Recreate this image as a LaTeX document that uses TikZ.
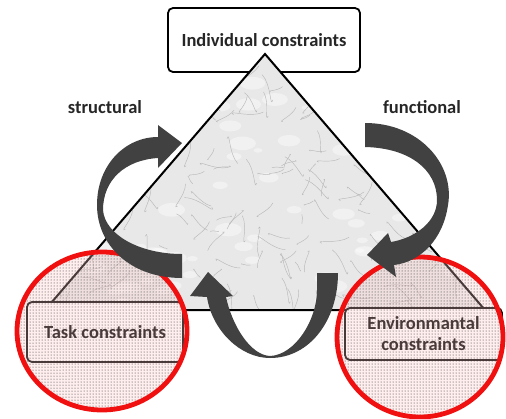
\documentclass[tikz,border=0pt]{standalone}
\usepackage{fontspec}
\setmainfont{Carlito}
\usetikzlibrary{patterns}
\definecolor{arrgray}{HTML}{414141}
\definecolor{ringred}{HTML}{F01010}
\begin{document}
\begin{tikzpicture}[x=1pt,y=-1pt]
\tikzset{
  cbox/.style={draw=black, line width=1.8pt, rounded corners=5pt, fill=white, inner sep=2pt},
  txt/.style={font=\fontsize{18.5}{21}\selectfont\bfseries, text=black!85},
  arrfill/.style={fill=arrgray},
  ringline/.style={draw=ringred, line width=4.8pt},
  pinkfill/.style={fill=red!22, fill opacity=0.3},
  dotfill/.style={pattern=dots, pattern color=black!85},
}
\useasboundingbox (0,0) rectangle (506,418);

% top box (below triangle)
\node[cbox, txt, minimum width=192pt, minimum height=64pt] (ind) at (264,40) {Individual constraints};

% triangle
\coordinate (ta) at (265,54);
\coordinate (tl) at (45,310);
\coordinate (tr) at (485,310);
\fill[gray!18] (ta) -- (tl) -- (tr) -- cycle;
\begin{scope}
  \clip (ta) -- (tl) -- (tr) -- cycle;
  \pgfmathsetseed{7}
  \foreach \i in {1,...,110} {
    \pgfmathsetmacro{\px}{45+440*rnd}
    \pgfmathsetmacro{\py}{54+256*rnd}
    \pgfmathsetmacro{\rr}{4+10*rnd}
    \fill[white, opacity=0.4] (\px,\py) ellipse ({\rr} and {\rr/2});
  }
  \foreach \i in {1,...,220} {
    \pgfmathsetmacro{\px}{45+440*rnd}
    \pgfmathsetmacro{\py}{54+256*rnd}
    \pgfmathsetmacro{\ang}{360*rnd}
    \pgfmathsetmacro{\len}{8+22*rnd}
    \draw[gray!55, line width=0.45pt] (\px,\py) .. controls +(\ang:\len/2) and +(\ang+60:\len/3) .. +(\ang+20:\len);
  }
\end{scope}
\draw[black, line width=2pt, line join=miter] (ta) -- (tl) -- (tr) -- cycle;

% lower boxes
\node[cbox, txt, text=black, minimum width=156pt, minimum height=60pt] (task) at (105,332) {Task constraints};
\node[cbox, txt, text=black, minimum width=157pt, minimum height=52pt, align=center] (env) at (423.5,334) {Environmantal\\constraints};

% circles
\coordinate (lc) at (102,331);
\coordinate (rc) at (420,337);
\fill[pinkfill] (lc) ellipse (85 and 79);
\fill[dotfill] (lc) ellipse (85 and 79);
\draw[ringline] (lc) ellipse (85 and 79);
\fill[pinkfill] (rc) ellipse (83 and 80);
\fill[dotfill] (rc) ellipse (83 and 80);
\draw[ringline] (rc) ellipse (83 and 80);

% structural arrow (left)
\fill[arrfill] (182,278) .. controls (130,278) and (97,245) .. (97,205)
  .. controls (97,165) and (125,137) .. (158,137) -- (158,125) -- (182,143) -- (158,168) -- (158,158)
  .. controls (125,160) and (103,180) .. (103,210)
  .. controls (105,235) and (140,254) .. (182,254) -- cycle;

% functional arrow (right)
\fill[arrfill] (365,123) .. controls (420,123) and (455,165) .. (448,205)
  .. controls (443,240) and (420,262) .. (394,265) -- (396,277) -- (367,255) -- (388,233) -- (391,242)
  .. controls (415,238) and (437,222) .. (437,200)
  .. controls (437,170) and (410,148) .. (365,147) -- cycle;

% bottom arrow
\fill[arrfill] (317,273) -- (338,273) .. controls (338,320) and (310,358) .. (270,358)
  .. controls (240,358) and (212,330) .. (207,297) -- (190,296) -- (208,272) -- (233,296) -- (226,297)
  .. controls (232,325) and (250,355) .. (270,356)
  .. controls (295,355) and (317,320) .. (317,290) -- cycle;

% labels
\node[txt] (lstruct) at (105,107) {structural};
\node[txt] (lfunc) at (422,107) {functional};
\end{tikzpicture}
\end{document}
